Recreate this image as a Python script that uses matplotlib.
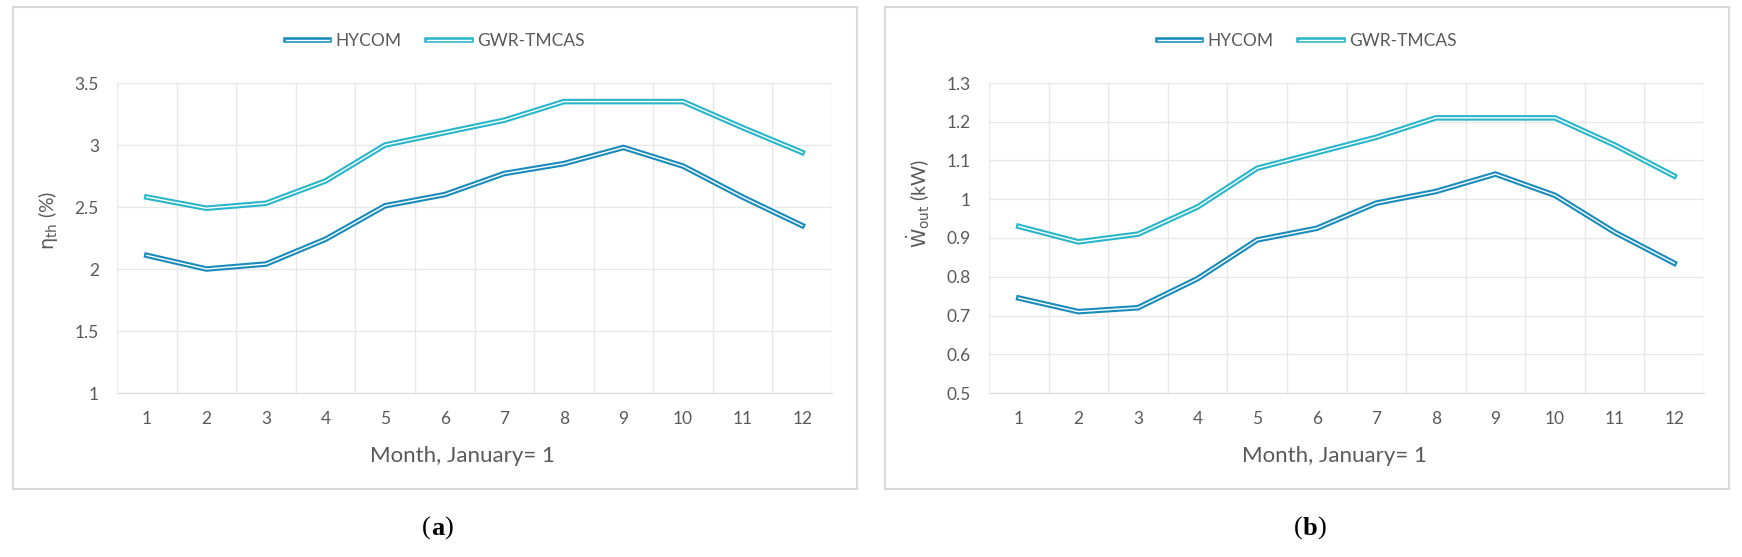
import matplotlib
matplotlib.use("Agg")
import matplotlib.pyplot as plt
import matplotlib.patheffects as pe
from matplotlib.patches import Rectangle
from matplotlib.ticker import FuncFormatter, MultipleLocator

plt.rcParams['font.family'] = ['Lato', 'DejaVu Sans']

months = list(range(1, 13))

# panel (a): thermal efficiency (%)
eta_hycom = [2.11, 2.00, 2.04, 2.24, 2.51, 2.60, 2.77, 2.85, 2.98, 2.83, 2.58, 2.35]
eta_gwr = [2.58, 2.49, 2.53, 2.71, 3.00, 3.10, 3.20, 3.35, 3.35, 3.35, 3.14, 2.94]

# panel (b): power output (kW)
w_hycom = [0.745, 0.71, 0.72, 0.795, 0.895, 0.925, 0.99, 1.02, 1.065, 1.01, 0.915, 0.835]
w_gwr = [0.93, 0.89, 0.91, 0.98, 1.08, 1.12, 1.16, 1.21, 1.21, 1.21, 1.14, 1.06]

series_names = ["HYCOM", "GWR-TMCAS"]
series_colors = ["#1a8cbc", "#29b6ca"]

W, H = 1742, 557
fig = plt.figure(figsize=(W / 100, H / 100), dpi=100)

txt = "#595959"
grid_c = "#e8e8e8"


def px(x0, y0, x1, y1):
    # pixel box -> figure fraction [left, bottom, width, height]
    return [x0 / W, 1 - y1 / H, (x1 - x0) / W, (y1 - y0) / H]


def panel(ax, hy, gw, ylim, ystep, ylabel, ylab_y, box_x0, box_x1, tag):
    for vals, name, c in zip([hy, gw], series_names, series_colors):
        ax.plot(months, vals, color="white", lw=1.0, label=name,
                solid_joinstyle="miter", zorder=3,
                path_effects=[pe.Stroke(linewidth=4.0, foreground=c), pe.Normal()])
    ax.set_xlim(0.5, 12.5)
    ax.set_ylim(*ylim)
    ax.set_xticks(months)
    ax.xaxis.set_minor_locator(MultipleLocator(1, offset=0.5))
    ax.yaxis.set_major_locator(MultipleLocator(ystep))
    ax.yaxis.set_major_formatter(FuncFormatter(lambda v, p: f"{v:g}"))
    ax.grid(True, which="minor", axis="x", color=grid_c, lw=1.0)
    ax.grid(True, which="major", axis="y", color=grid_c, lw=1.0)
    ax.tick_params(which="both", length=0, colors=txt, labelsize=12.5)
    ax.tick_params(axis="x", pad=13)
    ax.tick_params(axis="y", pad=13)
    for s in ["top", "right", "left"]:
        ax.spines[s].set_visible(False)
    ax.spines["bottom"].set_color("#d9d9d9")
    ax.set_xlabel("Month, January= 1", color=txt, fontsize=16)
    ax.xaxis.set_label_coords(0.483, -0.17)
    ax.set_ylabel(ylabel, color=txt, fontsize=14)
    ax.yaxis.set_label_coords(-0.08, ylab_y)

    cx = (box_x0 + box_x1) / 2
    ax.legend(loc="center", bbox_to_anchor=(cx / W, 1 - 41 / H),
              bbox_transform=fig.transFigure, ncol=2, frameon=False,
              fontsize=12.5, labelcolor=txt, handlelength=2.5,
              handletextpad=0.35, columnspacing=1.5)

    fig.patches.append(Rectangle((box_x0 / W, 1 - 489 / H), (box_x1 - box_x0) / W,
                                 (489 - 7) / H, transform=fig.transFigure,
                                 fill=False, edgecolor="#d9d9d9", lw=1.5))

    # panel tag: "(" + bold letter + ")"
    t1 = fig.text(cx / W - 0.0075, 1 - 540 / H, "(", family="Liberation Serif",
                  fontsize=19, va="bottom", ha="left", color="black")
    ann = ax.annotate(tag, xy=(1, 0), xycoords=t1, va="bottom", ha="left",
                      family="Liberation Serif", fontsize=19, fontweight="bold")
    ax.annotate(")", xy=(1, 0), xycoords=ann, va="bottom", ha="left",
                family="Liberation Serif", fontsize=19)


ax1 = fig.add_axes(px(117, 83, 832, 393))
panel(ax1, eta_hycom, eta_gwr, (1, 3.5), 0.5, r"$\mathrm{\eta_{th}}$ (%)",
      0.558, 13, 857, "a")

ax2 = fig.add_axes(px(989, 83, 1704, 393))
panel(ax2, w_hycom, w_gwr, (0.5, 1.3), 0.1, r"$\mathrm{\dot{W}_{out}}$ (kW)",
      0.61, 885, 1729, "b")

fig.savefig("out.png", dpi=100, facecolor="white")
